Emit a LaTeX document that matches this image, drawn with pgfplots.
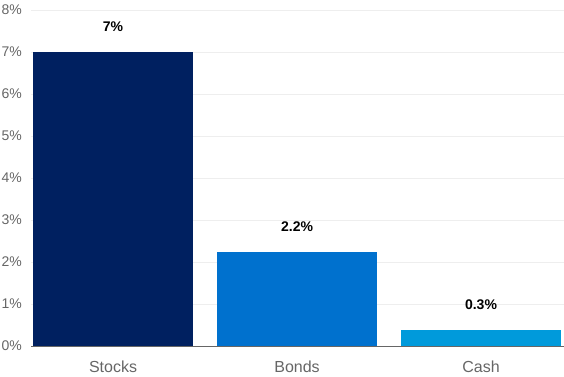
\documentclass[border=0pt]{standalone}
\usepackage{pgfplots}
\pgfplotsset{compat=1.18}
\usepackage{fontspec}
\setmainfont{Liberation Sans}
\definecolor{navy}{HTML}{002060}
\definecolor{midblue}{HTML}{0071CE}
\definecolor{lightblue}{HTML}{009ADB}
\definecolor{txtgray}{HTML}{666666}
\definecolor{gridgray}{HTML}{EEEEEE}
\begin{document}
\begin{tikzpicture}
\begin{axis}[
  scale only axis,
  width=533bp, height=336bp,
  ybar, bar width=160bp,
  xmin=-0.446, xmax=2.451,
  ymin=0, ymax=8,
  ytick={0,1,2,3,4,5,6,7,8},
  yticklabels={0\%,1\%,2\%,3\%,4\%,5\%,6\%,7\%,8\%},
  xtick={0,1,2},
  xticklabels={Stocks,Bonds,Cash},
  major tick length=0pt,
  axis y line*=left,
  y axis line style={draw=none},
  axis x line*=bottom,
  x axis line style={draw=txtgray, line width=0.8pt, -},
  ymajorgrids,
  grid style={draw=gridgray, line width=0.6pt},
  yticklabel style={font=\fontsize{14bp}{16bp}\selectfont, text=txtgray, anchor=east, inner sep=0pt, xshift=-9bp},
  xticklabel style={font=\fontsize{16bp}{18bp}\selectfont, text=txtgray, anchor=north, inner sep=0pt, yshift=-15bp},
  point meta=explicit symbolic,
  nodes near coords,
  every node near coord/.append style={font=\bfseries\fontsize{14bp}{16bp}\selectfont, text=black, anchor=center, yshift=25bp},
  clip=false,
]
\addplot[fill=navy, draw=none, bar shift=0pt] coordinates {(0,7) [7\%]};
\addplot[fill=midblue, draw=none, bar shift=0pt] coordinates {(1,2.24) [2.2\%]};
\addplot[fill=lightblue, draw=none, bar shift=0pt] coordinates {(2,0.38) [0.3\%]};
\end{axis}
\pgfresetboundingbox
\path (current axis.south west) ++(-31bp,-31bp) coordinate (bl);
\path (current axis.north east) ++(0bp,10bp) coordinate (tr);
\path[use as bounding box] (bl) rectangle (tr);
\end{tikzpicture}
\end{document}
